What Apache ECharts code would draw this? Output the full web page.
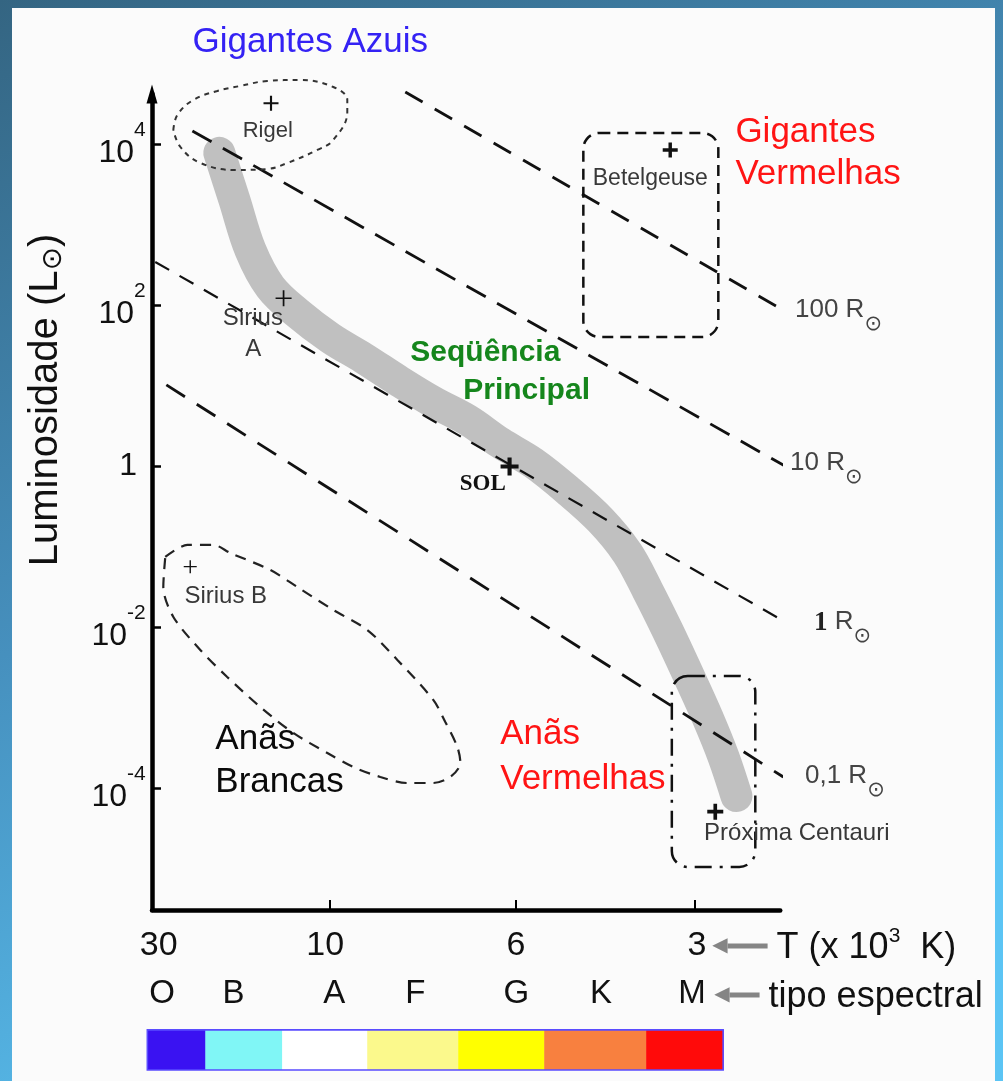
<!DOCTYPE html>
<html><head><meta charset="utf-8">
<script src="https://cdn.jsdelivr.net/npm/echarts@6/dist/echarts.min.js"></script>
<style>html,body{margin:0;padding:0;background:#fff;overflow:hidden}#c{width:1003px;height:1081px}</style>
</head><body><div id="c"></div>
<script>
// ================= DATA =================
// x: position along the temperature / spectral-type axis (30 000 K at 0)
// y: log10(L / L_sun)
const tempLabels   = ['30', '10', '6', '3'];
const tempLabelPos = [0.037, 0.965, 2.028, 3.036];
const tempTickPos  = [0.989, 2.028, 3.023];

const spectralTypes = ['O', 'B', 'A', 'F', 'G', 'K', 'M'];
const spectralPos   = [0.056, 0.454, 1.016, 1.467, 2.030, 2.501, 3.008];

const lumTicks = [4, 2, 0, -2, -4];

// main sequence band (centre line)
const msX = [0.375,0.459,0.548,0.659,0.810,0.993,1.177,1.383,1.567,1.757,1.941,2.125,2.314,2.498,2.648,2.760,2.871,2.983,3.094,3.184,3.256];
const msY = [3.896,3.311,2.690,2.230,1.907,1.597,1.348,1.050,0.801,0.578,0.292,0.043,-0.292,-0.665,-1.075,-1.535,-2.032,-2.566,-3.113,-3.610,-4.095];

// individual stars
const starNames = ['Rigel', 'Betelgeuse', 'Sirius A', 'SOL', 'Sirius B', 'Próxima Centauri'];
const starX     = [0.663, 2.887, 0.733, 1.992, 0.213, 3.138];
const starLogL  = [4.513, 3.933, 2.090, 0.000, -1.245, -4.289];

// lines of constant radius
const radiusValues = ['100', '10', '1', '0,1'];
const radiusStartX = [1.411, 0.225, 0.018, 0.080];
const radiusStartY = [4.653, 4.169, 2.541, 1.013];
const radiusEndX   = [3.544, 3.584, 3.528, 3.517];
const radiusEndY   = [1.907, -0.068, -1.932, -3.858];

// region outlines
const blueGiantX = [0.119,0.141,0.230,0.364,0.492,0.642,0.826,1.010,1.088,1.088,1.010,0.921,0.754,0.642,0.464,0.269,0.158,0.119];
const blueGiantY = [4.181,4.367,4.554,4.666,4.728,4.790,4.802,4.715,4.554,4.405,4.057,3.933,3.771,3.696,3.684,3.771,3.970,4.181];
const whiteDwarfX = [0.074,0.197,0.342,0.436,0.659,0.809,1.010,1.199,1.367,1.567,1.634,1.701,1.718,1.662,1.567,1.422,1.272,1.121,0.977,0.787,0.603,0.419,0.269,0.119,0.063,0.074];
const whiteDwarfY = [-1.124,-0.975,-0.975,-1.075,-1.286,-1.497,-1.783,-2.031,-2.404,-2.901,-3.175,-3.485,-3.684,-3.858,-3.933,-3.933,-3.858,-3.734,-3.560,-3.311,-2.988,-2.615,-2.280,-1.870,-1.497,-1.124];
const redGiantBox = [2.403, 4.144, 3.155, 1.609];
const redDwarfBox = [2.896, -2.603, 3.361, -4.976];

// region / star annotations
const annotTexts = ['Gigantes Azuis', 'Gigantes\nVermelhas', 'Seqüência', 'Principal', 'Anãs\nBrancas', 'Anãs\nVermelhas',
                    'Rigel', 'Betelgeuse', 'Sirius', 'A', 'Sirius B', 'Próxima Centauri', 'SOL'];
const annotX = [0.882, 3.250, 1.439, 1.734, 0.353, 1.940, 0.645, 2.776, 0.562, 0.564, 0.411, 3.592, 1.843];
const annotY = [5.265, 3.885, 1.413, 0.936, -3.663, -3.613, 4.174, 3.577, 1.838, 1.452, -1.617, -4.561, -0.217];

// axis captions (anchored at arrow tip)
const captionX = [3.121, 3.132];
const captionY = [-5.958, -6.567];

// spectral colour bar
const spectralBandEdges = [-0.026, 0.297, 0.725, 1.199, 1.706, 2.185, 2.753, 3.182];
const spectralBarY = [-7.001, -7.499];

// ================= STYLES =================
const FONT = '"Liberation Sans", Arial, Helvetica, sans-serif';
const SYM = '"DejaVu Sans", sans-serif';
const SERIF = '"Liberation Serif", "Times New Roman", serif';
const spectralBandColors = ['#3a12f2', '#80f6f6', '#ffffff', '#fbf98c', '#ffff00', '#f8803f', '#ff0a0a'];

const P_THIN = 'path://M0,6.25H14V7.75H0Z M6.25,0H7.75V14H6.25Z';
const P_MED  = 'path://M0,6H14V8H0Z M6,0H8V14H6Z';
const P_BOLD = 'path://M0,5.4H14V8.6H0Z M5.4,0H8.6V14H5.4Z';
const starStyle = [
  {p: P_MED, s: 15}, {p: P_BOLD, s: 15}, {p: P_THIN, s: 16},
  {p: P_BOLD, s: 18}, {p: P_THIN, s: 13}, {p: P_BOLD, s: 16}
];

const BLUE = '#3422f4', RED = '#ff1414', GREEN = '#15861c', GREY = '#383838';
const annotStyle = [
  {c: BLUE, f: 35, a: 'center'},
  {c: RED, f: 35, a: 'left', lh: 42},
  {c: GREEN, f: 30, a: 'left', w: 'bold'},
  {c: GREEN, f: 30, a: 'left', w: 'bold'},
  {c: '#0a0a0a', f: 35, a: 'left', lh: 43},
  {c: RED, f: 35, a: 'left', lh: 45},
  {c: GREY, f: 22, a: 'center'},
  {c: GREY, f: 23, a: 'center'},
  {c: GREY, f: 24, a: 'center'},
  {c: GREY, f: 24, a: 'center'},
  {c: GREY, f: 24, a: 'center'},
  {c: GREY, f: 24, a: 'center'},
  {c: '#111', f: 23, a: 'center', w: 'bold', ff: SERIF}
];

const radiusStyle = [
  {w: 2.8, dash: [20, 14], dist: 12, off: 6},
  {w: 2.8, dash: [22, 13], dist: 7, off: 4},
  {w: 2.2, dash: [16, 12], dist: 32, off: 8},
  {w: 2.8, dash: [22, 14], dist: 22, off: 5}
];

const zip = (xs, ys) => xs.map((x, i) => [x, ys[i]]);

// ================= OPTION =================
const series = [];

// main sequence band
series.push({
  type: 'line', name: 'Sequência Principal', data: zip(msX, msY),
  symbol: 'none', smooth: 0.35, clip: false, silent: true, z: 1,
  lineStyle: {color: '#c0c0c0', width: 32, cap: 'round', join: 'round'}
});

// constant radius lines
radiusValues.forEach((rv, i) => {
  const st = radiusStyle[i];
  const head = (i === 2) ? '{b|' + rv + '}{n| R}' : '{n|' + rv + ' R}';
  series.push({
    type: 'line', name: rv + ' R⊙',
    data: [[radiusStartX[i], radiusStartY[i]], [radiusEndX[i], radiusEndY[i]]],
    symbol: 'none', clip: false, silent: true, z: 3,
    lineStyle: {color: '#111', width: st.w, type: st.dash},
    endLabel: {
      show: true, distance: st.dist, offset: [0, st.off],
      formatter: head + '{s|⊙}{h| }',
      rich: {
        n: {fontFamily: FONT, fontSize: 26, lineHeight: 26, color: '#444', verticalAlign: 'top'},
        b: {fontFamily: SERIF, fontWeight: 'bold', fontSize: 27, lineHeight: 26, color: '#222', verticalAlign: 'top'},
        s: {fontFamily: SYM, fontSize: 21, lineHeight: 21, color: '#444', verticalAlign: 'bottom'},
        h: {fontSize: 1, lineHeight: 38}
      }
    }
  });
});

// blue giants outline
series.push({
  type: 'line', name: 'Gigantes Azuis', data: zip(blueGiantX, blueGiantY),
  symbol: 'none', smooth: 0.4, clip: false, silent: true, z: 3,
  lineStyle: {color: '#333', width: 2, type: [5, 5]}
});
// white dwarfs outline
series.push({
  type: 'line', name: 'Anãs Brancas', data: zip(whiteDwarfX, whiteDwarfY),
  symbol: 'none', smooth: 0.3, clip: false, silent: true, z: 3,
  lineStyle: {color: '#222', width: 2.2, type: [11, 8]}
});

// rounded boxes (red giants, red dwarfs)
const boxStyles = [
  {r: 16, dash: [11, 7]},
  {r: 16, dash: [17, 8, 3, 8]}
];
series.push({
  type: 'custom', name: 'regiões', silent: true, z: 4,
  encode: {x: [0, 2], y: [1, 3]},
  data: [redGiantBox, redDwarfBox],
  renderItem: (params, api) => {
    const a = api.coord([api.value(0), api.value(1)]);
    const b = api.coord([api.value(2), api.value(3)]);
    const st = boxStyles[params.dataIndex];
    return {
      type: 'rect',
      shape: {x: Math.min(a[0], b[0]), y: Math.min(a[1], b[1]), width: Math.abs(b[0] - a[0]), height: Math.abs(b[1] - a[1]), r: st.r},
      style: {fill: 'none', stroke: '#111', lineWidth: 2.5, lineDash: st.dash}
    };
  }
});

// stars (crosses)
series.push({
  type: 'scatter', name: 'estrelas', silent: true, z: 6, clip: false,
  itemStyle: {color: '#111', opacity: 1},
  data: starNames.map((n, i) => ({
    name: n, value: [starX[i], starLogL[i]],
    symbol: starStyle[i].p, symbolSize: starStyle[i].s
  }))
});

// annotations
series.push({
  type: 'scatter', name: 'anotações', silent: true, z: 7, clip: false,
  symbol: 'circle', symbolSize: 1, itemStyle: {color: 'rgba(0,0,0,0)', opacity: 1},
  data: annotTexts.map((t, i) => {
    const st = annotStyle[i];
    return {
      value: [annotX[i], annotY[i]],
      label: {
        show: true, position: 'inside', formatter: t,
        align: st.a, verticalAlign: 'middle',
        color: st.c, fontSize: st.f, fontWeight: st.w || 'normal',
        fontFamily: st.ff || FONT, lineHeight: st.lh || st.f
      }
    };
  })
});

// axis captions with grey arrows
const captionTexts = [
  '{ah|◀}{bar| }{gp| }{t|T (x 10}{sup|3}{t|  K)}',
  '{ah|◀}{bar2| }{gp| }{t|tipo espectral}'
];
series.push({
  type: 'scatter', name: 'legendas dos eixos', silent: true, z: 7, clip: false,
  symbol: 'circle', symbolSize: 1, itemStyle: {color: 'rgba(0,0,0,0)', opacity: 1},
  data: captionTexts.map((t, i) => ({
    value: [captionX[i], captionY[i]],
    label: {
      show: true, position: 'inside', align: 'left', verticalAlign: 'middle',
      formatter: t,
      rich: {
        ah: {fontFamily: SYM, fontSize: 20, color: '#858585', lineHeight: 40},
        bar: {width: 40, height: 5, backgroundColor: '#858585', fontSize: 1},
        bar2: {width: 30, height: 5, backgroundColor: '#858585', fontSize: 1},
        gp: {width: 9, fontSize: 1},
        t: {fontFamily: FONT, fontSize: 36, lineHeight: 40, color: '#111', verticalAlign: 'bottom'},
        sup: {fontFamily: FONT, fontSize: 21, lineHeight: 26, color: '#111', verticalAlign: 'top'}
      }
    }
  }))
});

// spectral colour bar
series.push({
  type: 'custom', name: 'cores', silent: true, z: 2,
  encode: {x: [0, 1]},
  data: spectralBandEdges.slice(0, -1).map((x0, i) => [x0, spectralBandEdges[i + 1]]),
  renderItem: (params, api) => {
    const a = api.coord([api.value(0), spectralBarY[0]]);
    const b = api.coord([api.value(1), spectralBarY[1]]);
    return {
      type: 'rect',
      shape: {x: a[0], y: a[1], width: b[0] - a[0] + 0.5, height: b[1] - a[1]},
      style: {fill: spectralBandColors[params.dataIndex]}
    };
  }
});
series.push({
  type: 'custom', name: 'cores-borda', silent: true, z: 3,
  encode: {x: [0, 1]},
  data: [[spectralBandEdges[0], spectralBandEdges[spectralBandEdges.length - 1]]],
  renderItem: (params, api) => {
    const a = api.coord([api.value(0), spectralBarY[0]]);
    const b = api.coord([api.value(1), spectralBarY[1]]);
    return {
      type: 'rect',
      shape: {x: a[0], y: a[1], width: b[0] - a[0], height: b[1] - a[1]},
      style: {fill: 'none', stroke: '#5a4cff', lineWidth: 1.6}
    };
  }
});

const option = {
  animation: false,
  backgroundColor: new echarts.graphic.LinearGradient(0, 0, 0.5, 1, [
    {offset: 0, color: '#346582'}, {offset: 0.5, color: '#4690be'}, {offset: 1, color: '#5bc4f4'}
  ]),
  graphic: [{
    type: 'rect', left: 12, top: 8, z: -100, silent: true,
    shape: {width: 983, height: 1073},
    style: {fill: '#fbfbfb'}
  }],
  grid: {left: 152, top: 94, width: 628.25, height: 816, containLabel: false},
  xAxis: [{
    type: 'value', min: 0, max: 3.5, position: 'bottom',
    axisLine: {show: true, onZero: false, lineStyle: {color: '#000', width: 4.5}},
    axisTick: {show: true, inside: true, length: 10, customValues: tempTickPos, lineStyle: {color: '#000', width: 2}},
    axisLabel: {
      show: true, customValues: tempLabelPos, margin: 19,
      formatter: v => tempLabels[tempLabelPos.indexOf(v)] || '',
      fontFamily: FONT, fontSize: 34, color: '#111'
    },
    splitLine: {show: false}
  }, {
    type: 'value', min: 0, max: 3.5, position: 'bottom', gridIndex: 0,
    axisLine: {show: false}, axisTick: {show: false},
    axisLabel: {
      show: true, customValues: spectralPos, margin: 67,
      formatter: v => spectralTypes[spectralPos.indexOf(v)] || '',
      fontFamily: FONT, fontSize: 33, color: '#111'
    },
    splitLine: {show: false}
  }],
  yAxis: [{
    type: 'value', min: -5.511, max: 4.628,
    axisLine: {show: true, onZero: false, symbol: ['none', 'triangle'], symbolSize: [11, 19], lineStyle: {color: '#000', width: 4.5}},
    axisTick: {show: true, inside: true, length: 9, customValues: lumTicks, lineStyle: {color: '#000', width: 2.5}},
    axisLabel: {
      show: true, customValues: lumTicks, margin: 6,
      formatter: v => v === 0 ? '{one|1}' : '{b|10}{s|' + v + '}{h| }',
      rich: {
        b: {fontFamily: FONT, fontSize: 32, lineHeight: 32, color: '#111', verticalAlign: 'bottom'},
        s: {fontFamily: FONT, fontSize: 21, lineHeight: 22, color: '#111', verticalAlign: 'top'},
        h: {fontSize: 1, lineHeight: 50},
        one: {fontFamily: FONT, fontSize: 32, lineHeight: 32, color: '#111', padding: [0, 9, 0, 0]}
      }
    },
    splitLine: {show: false},
    name: '{t|Luminosidade (L}{o|⊙}{t|)}',
    nameLocation: 'middle', nameGap: 84,
    nameTextStyle: {
      padding: [0, 0, 0, 204],
      rich: {
        t: {fontFamily: FONT, fontSize: 40, lineHeight: 44, color: '#111'},
        o: {fontFamily: SYM, fontSize: 28, lineHeight: 30, color: '#111', verticalAlign: 'bottom'}
      }
    }
  }],
  series: series
};

const chart = echarts.init(document.getElementById('c'), null, {renderer: 'canvas', width: 1003, height: 1081});
chart.setOption(option);
</script>
</body></html>
